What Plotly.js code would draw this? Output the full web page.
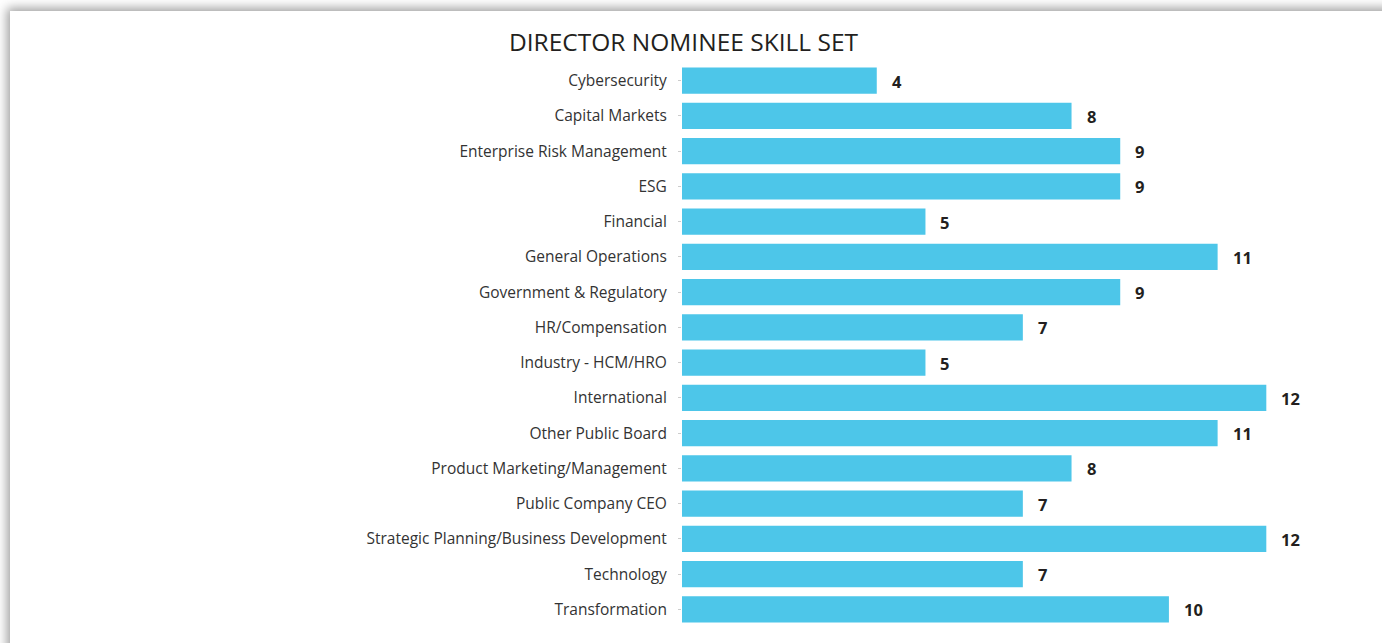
<!DOCTYPE html>
<html>
<head>
<meta charset="utf-8">
<script src="https://cdn.plot.ly/plotly-3.0.1.min.js"></script>
<style>
  html, body { margin: 0; padding: 0; width: 1382px; height: 643px; overflow: hidden; background: #ffffff; }
  #card { position: absolute; left: 10px; top: 11px; width: 1400px; height: 700px; background: #ffffff;
          box-shadow: -3px -3px 10px rgba(0,0,0,0.38); }
  #chart { position: absolute; left: 0; top: 0; width: 1382px; height: 643px; }
</style>
</head>
<body>
<div id="card"></div>
<div id="chart"></div>
<script>
const categories = [
  "Cybersecurity",
  "Capital Markets",
  "Enterprise Risk Management",
  "ESG",
  "Financial",
  "General Operations",
  "Government & Regulatory",
  "HR/Compensation",
  "Industry - HCM/HRO",
  "International",
  "Other Public Board",
  "Product Marketing/Management",
  "Public Company CEO",
  "Strategic Planning/Business Development",
  "Technology",
  "Transformation"
];
const values = [4, 8, 9, 9, 5, 11, 9, 7, 5, 12, 11, 8, 7, 12, 7, 10];
const chartTitle = "DIRECTOR NOMINEE SKILL SET";

const W = 1382, H = 643;
const trace = {
  type: 'bar',
  orientation: 'h',
  x: values,
  y: categories,
  marker: { color: '#4dc6e9' },
  width: 0.74,
  hoverinfo: 'none'
};

const annotations = categories.map((c, i) => ({
  x: values[i], y: c, xref: 'x', yref: 'y',
  text: '<b>' + values[i] + '</b>',
  showarrow: false, xanchor: 'left', yanchor: 'middle',
  xshift: 13, yshift: -0.5,
  font: { family: 'Open Sans, sans-serif', size: 16.5, color: '#231f20' }
}));

const layout = {
  width: W, height: H,
  paper_bgcolor: 'rgba(0,0,0,0)',
  plot_bgcolor: 'rgba(0,0,0,0)',
  margin: { l: 682, r: 67.3, t: 63.4, b: 16.4, pad: 0 },
  title: {
    text: chartTitle,
    xref: 'container', yref: 'container',
    x: 509 / W, xanchor: 'left',
    y: 1 - 42 / H, yanchor: 'middle',
    font: { family: 'Open Sans, sans-serif', size: 24.5, color: '#231f20' }
  },
  xaxis: { range: [0, 13], visible: false, fixedrange: true },
  yaxis: {
    range: [15.5, -0.5],
    showgrid: false, zeroline: false, showline: false,
    ticks: 'outside', ticklen: 3, tickcolor: '#cccccc',
    ticklabelstandoff: 8,
    tickfont: { family: 'Open Sans, sans-serif', size: 15.5, color: '#333333' },
    fixedrange: true
  },
  annotations: annotations,
  showlegend: false,
  bargap: 0.26
};

Plotly.newPlot('chart', [trace], layout, { displayModeBar: false, staticPlot: true });
</script>
</body>
</html>
